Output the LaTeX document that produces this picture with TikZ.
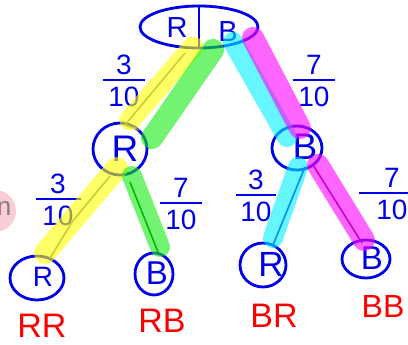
\documentclass[tikz,border=0pt]{standalone}
\usepackage{fontspec}
\setmainfont{Liberation Sans}
\usetikzlibrary{shapes.geometric}
\definecolor{pen}{RGB}{0,0,230}
\definecolor{redpen}{RGB}{250,0,0}
\definecolor{hlY}{RGB}{255,255,0}
\definecolor{hlG}{RGB}{20,235,20}
\definecolor{hlC}{RGB}{0,240,255}
\definecolor{hlM}{RGB}{255,0,255}
\definecolor{blob}{RGB}{250,205,215}
\newcommand\myfrac[6]{%
  \node[fr] (#1n) at (#2,#3-15) {#4};
  \node[fr] (#1d) at (#2,#3+17) {#5};
  \draw[fline] (#2-#6/2,#3) -- (#2+#6/2,#3);
}
\begin{document}
\begin{tikzpicture}[x=1pt,y=-1pt,
  ring/.style={ellipse, draw=pen, line width=2.8pt, inner sep=0pt},
  letter/.style={text=pen, inner sep=0pt, font=\fontsize{37}{39}\selectfont},
  lab/.style={text=redpen, inner sep=0pt, font=\fontsize{34}{36}\selectfont},
  fr/.style={text=pen, inner sep=0pt, font=\fontsize{28}{30}\selectfont},
  fline/.style={draw=pen, line width=2pt},
  penline/.style={line width=1.6pt},
  hl/.style={line width=21pt, line cap=round, opacity=0.6},
]
\useasboundingbox (0,0) rectangle (408,345);
\clip (0,0) rectangle (408,345);
\fill[white] (0,0) rectangle (408,345);

% clipped blob at the left edge
\fill[blob] (-5,211) circle (21);
\node[text=gray, inner sep=0pt, font=\fontsize{26}{28}\selectfont] (edgen) at (4,209) {n};

% root
\node[ring, minimum width=118pt, minimum height=42pt] (root) at (199,27) {};
\node[letter, font=\fontsize{29}{31}\selectfont] (rootR) at (177,28) {R};
\node[letter, font=\fontsize{29}{31}\selectfont] (rootB) at (228,32) {B};
\draw[draw=pen, line width=2.8pt] (root.north) -- (root.south);

% level 1
\node[ring, minimum width=54pt, minimum height=52pt] (cR) at (120,149) {};
\node[letter] (cRt) at (125,149) {R};
\node[ring, minimum width=50pt, minimum height=44pt] (cB) at (297,148) {};
\node[letter] (cBt) at (305,147) {B};

% leaves
\node[ring, minimum width=54pt, minimum height=44pt] (lRR) at (37,278) {};
\node[letter, font=\fontsize{28}{30}\selectfont] (lRRt) at (43,277) {R};
\node[ring, minimum width=38pt, minimum height=42pt] (lRB) at (154,274) {};
\node[letter, font=\fontsize{33}{35}\selectfont] (lRBt) at (157,273) {B};
\node[ring, minimum width=46pt, minimum height=44pt] (lBR) at (263,265) {};
\node[letter, font=\fontsize{35}{37}\selectfont] (lBRt) at (271,264) {R};
\node[ring, minimum width=48pt, minimum height=38pt] (lBB) at (366,259) {};
\node[letter, font=\fontsize{33}{35}\selectfont] (lBBt) at (372,258) {B};

% outcome labels
\node[lab] (tRR) at (42,326) {RR};
\node[lab] (tRB) at (162,321) {RB};
\node[lab] (tBR) at (274,316) {BR};
\node[lab, font=\fontsize{32}{34}\selectfont] (tBB) at (383,306) {BB};

% fractions
\myfrac{f1}{124}{80}{3}{10}{42}
\myfrac{f2}{314}{80}{7}{10}{42}
\myfrac{f3}{58}{199}{3}{10}{45}
\myfrac{f4}{181}{203}{7}{10}{42}
\myfrac{f5}{256}{195}{3}{10}{40}
\myfrac{f6}{392}{193}{7}{10}{66}

% stroke end points
\coordinate (yA) at (193,47);  \coordinate (yB) at (130,120);
\coordinate (gA) at (213,50);  \coordinate (gB) at (152,138);
\coordinate (cA) at (233,42);  \coordinate (cB2) at (287,137);
\coordinate (mA) at (253,38);  \coordinate (mB) at (300,128);
\coordinate (yC) at (117,168); \coordinate (yD) at (45,253);
\coordinate (gC) at (132,176); \coordinate (gD) at (160,247);
\coordinate (cC) at (298,167); \coordinate (cD) at (273,238);
\coordinate (mC) at (318,165); \coordinate (mD) at (364,240);

% pen lines under the highlighter
\coordinate (p1) at (185,53); \coordinate (p2) at (125,125); \coordinate (p3) at (140,130);
\draw[penline, draw=gray] (p1) -- (p2) -- (p3);
\coordinate (p4) at (110,176); \coordinate (p5) at (72,222); \coordinate (p6) at (50,258);
\draw[penline, draw=gray] (p4) -- (p5) -- (p6);
\coordinate (p7) at (130,182); \coordinate (p8) at (158,252);
\draw[penline, draw=green!40!black] (p7) -- (p8);
\coordinate (p9) at (305,167); \coordinate (p10) at (273,245);
\draw[penline, draw=pen] (p9) -- (p10);
\coordinate (p11) at (313,165); \coordinate (p12) at (362,243);
\draw[penline, draw=violet] (p11) -- (p12);

% highlighter strokes
\draw[hl, draw=hlY] (yA) -- (yB);
\draw[hl, draw=hlG, line width=22pt] (gA) -- (gB);
\draw[hl, draw=hlC, line width=20pt] (cA) -- (cB2);
\draw[hl, draw=hlM, line width=22pt] (mA) -- (mB);
\draw[hl, draw=hlY, line width=22pt] (yC) -- (yD);
\draw[hl, draw=hlG, line width=20pt] (gC) -- (gD);
\draw[hl, draw=hlC, line width=20pt] (cC) -- (cD);
\draw[hl, draw=hlM, line width=22pt] (mC) -- (mD);
\end{tikzpicture}
\end{document}
